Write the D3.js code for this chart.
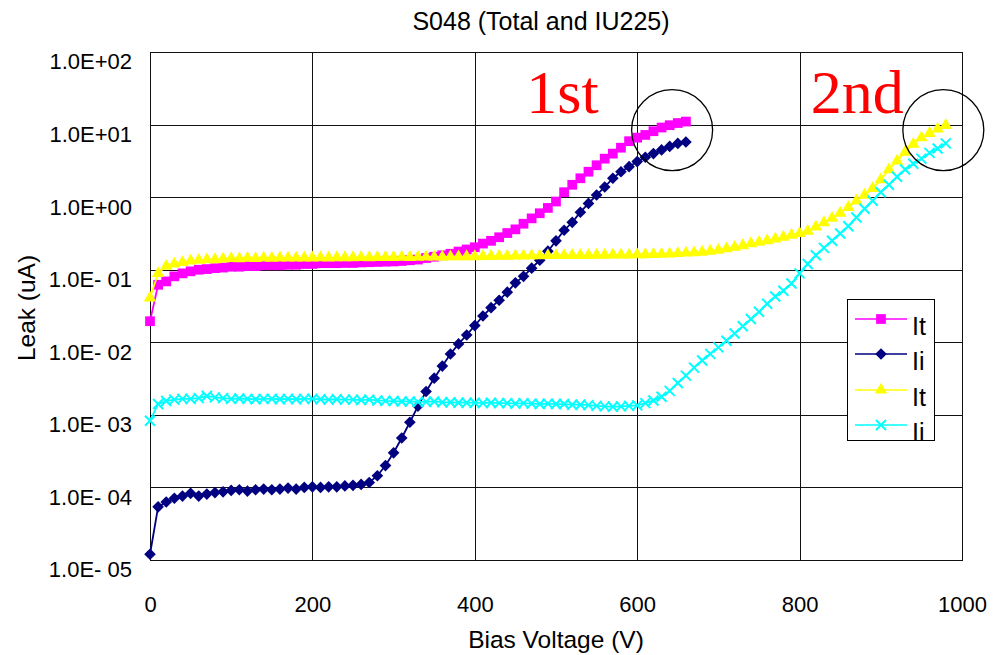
<!DOCTYPE html>
<html>
<head>
<meta charset="utf-8">
<script src="https://cdn.jsdelivr.net/npm/d3@7"></script>
<style>
  body { margin: 0; background: #fff; }
  svg { display: block; font-family: "Liberation Sans", Arial, sans-serif; }
</style>
</head>
<body>
<svg></svg>
<script>
// bias voltage of the first and second measurement (V)
let volts1 = [0, 10, 20, 30, 40, 50, 60, 70, 80, 90, 100, 110, 120, 130, 140, 150, 160, 170, 180, 190,
  200, 210, 220, 230, 240, 250, 260, 270, 280, 290, 300, 310, 320, 330, 340, 350, 360, 370, 380, 390,
  400, 410, 420, 430, 440, 450, 460, 470, 480, 490, 500, 510, 520, 530, 540, 550, 560, 570, 580, 590,
  600, 610, 620, 630, 640, 650, 660]
let volts2 = [0, 10, 20, 30, 40, 50, 60, 70, 80, 90, 100, 110, 120, 130, 140, 150, 160, 170, 180, 190,
  200, 210, 220, 230, 240, 250, 260, 270, 280, 290, 300, 310, 320, 330, 340, 350, 360, 370, 380, 390,
  400, 410, 420, 430, 440, 450, 460, 470, 480, 490, 500, 510, 520, 530, 540, 550, 560, 570, 580, 590,
  600, 610, 620, 630, 640, 650, 660, 670, 680, 690, 700, 710, 720, 730, 740, 750, 760, 770, 780, 790,
  800, 810, 820, 830, 840, 850, 860, 870, 880, 890, 900, 910, 920, 930, 940, 950, 960, 970, 980]

// leak current (uA), first measurement
let it1 = [0.0195, 0.062, 0.069, 0.081, 0.089, 0.095, 0.100, 0.102, 0.105, 0.107,
  0.110, 0.110, 0.112, 0.112, 0.115, 0.115, 0.115, 0.117, 0.117, 0.120,
  0.120, 0.123, 0.123, 0.123, 0.124, 0.124, 0.126, 0.127, 0.128, 0.129,
  0.130, 0.132, 0.135, 0.138, 0.145, 0.151, 0.158, 0.166, 0.178, 0.190,
  0.204, 0.229, 0.250, 0.280, 0.320, 0.360, 0.430, 0.510, 0.600, 0.710,
  0.870, 1.17, 1.48, 1.82, 2.24, 2.75, 3.39, 3.98, 4.80, 5.90,
  6.60, 7.20, 8.10, 9.10, 9.80, 10.5, 11.0]
let ii1 = [1.2e-5, 5.4e-5, 6.3e-5, 7.1e-5, 7.6e-5, 8.3e-5, 7.6e-5, 8.1e-5, 8.5e-5, 8.7e-5,
  9.1e-5, 9.3e-5, 8.9e-5, 9.3e-5, 9.5e-5, 9.3e-5, 9.5e-5, 9.8e-5, 9.5e-5, 1.0e-4,
  1.02e-4, 1.0e-4, 1.02e-4, 1.02e-4, 1.05e-4, 1.07e-4, 1.1e-4, 1.17e-4, 1.45e-4, 2.0e-4,
  3.0e-4, 4.8e-4, 7.9e-4, 1.32e-3, 2.1e-3, 3.2e-3, 4.7e-3, 6.9e-3, 9.5e-3, 1.26e-2,
  1.7e-2, 2.3e-2, 3.0e-2, 3.8e-2, 4.9e-2, 6.6e-2, 8.1e-2, 0.105, 0.135, 0.18,
  0.25, 0.35, 0.45, 0.62, 0.82, 1.07, 1.38, 1.82, 2.24, 2.63,
  3.09, 3.55, 3.98, 4.47, 5.0, 5.5, 5.75]

// leak current (uA), second measurement
let it2 = [0.041, 0.089, 0.112, 0.120, 0.126, 0.132, 0.135, 0.138, 0.138, 0.141,
  0.143, 0.142, 0.144, 0.143, 0.145, 0.144, 0.146, 0.145, 0.145, 0.146,
  0.146, 0.147, 0.146, 0.147, 0.147, 0.147, 0.148, 0.147, 0.148, 0.148,
  0.148, 0.149, 0.148, 0.149, 0.150, 0.150, 0.150, 0.151, 0.151, 0.152,
  0.152, 0.153, 0.153, 0.154, 0.154, 0.155, 0.155, 0.156, 0.156, 0.157,
  0.157, 0.157, 0.158, 0.158, 0.158, 0.159, 0.159, 0.160, 0.160, 0.160,
  0.161, 0.162, 0.163, 0.164, 0.165, 0.168, 0.170, 0.172, 0.175, 0.180,
  0.186, 0.195, 0.204, 0.215, 0.229, 0.240, 0.251, 0.266, 0.282, 0.300,
  0.316, 0.339, 0.389, 0.447, 0.513, 0.603, 0.724, 0.891, 1.07, 1.32,
  1.74, 2.40, 3.16, 4.17, 5.37, 6.61, 7.59, 8.71, 9.77]
let ii2 = [8.3e-4, 1.41e-3, 1.55e-3, 1.62e-3, 1.66e-3, 1.66e-3, 1.70e-3, 1.82e-3, 1.74e-3, 1.70e-3,
  1.66e-3, 1.68e-3, 1.66e-3, 1.64e-3, 1.66e-3, 1.66e-3, 1.64e-3, 1.66e-3, 1.64e-3, 1.66e-3,
  1.66e-3, 1.64e-3, 1.62e-3, 1.64e-3, 1.62e-3, 1.62e-3, 1.60e-3, 1.62e-3, 1.58e-3, 1.56e-3,
  1.55e-3, 1.53e-3, 1.53e-3, 1.51e-3, 1.51e-3, 1.53e-3, 1.49e-3, 1.49e-3, 1.47e-3, 1.47e-3,
  1.47e-3, 1.45e-3, 1.47e-3, 1.45e-3, 1.45e-3, 1.43e-3, 1.45e-3, 1.43e-3, 1.41e-3, 1.43e-3,
  1.41e-3, 1.41e-3, 1.38e-3, 1.38e-3, 1.36e-3, 1.33e-3, 1.31e-3, 1.29e-3, 1.31e-3, 1.33e-3,
  1.35e-3, 1.45e-3, 1.58e-3, 1.78e-3, 2.14e-3, 2.75e-3, 3.47e-3, 4.47e-3, 5.62e-3, 6.92e-3,
  8.51e-3, 1.05e-2, 1.32e-2, 1.66e-2, 2.09e-2, 2.63e-2, 3.39e-2, 4.27e-2, 5.13e-2, 6.46e-2,
  0.089, 0.120, 0.158, 0.200, 0.251, 0.316, 0.398, 0.525, 0.692, 0.891,
  1.17, 1.48, 1.91, 2.40, 2.88, 3.39, 4.07, 4.68, 5.50]

let seriesNames = ['It', 'Ii', 'It', 'Ii']

// axis ticks
let xTicks = [0, 200, 400, 600, 800, 1000]
let yTicks = [1e-5, 1e-4, 1e-3, 1e-2, 1e-1, 1e0, 1e1, 1e2]
let yTickLabels = ['1.0E- 05', '1.0E- 04', '1.0E- 03', '1.0E- 02', '1.0E- 01', '1.0E+00', '1.0E+01', '1.0E+02']

// annotations: breakdown labels and circled end points
let noteTexts = ['1st', '2nd']
let noteVolts = [508, 871]
let noteLeak = [14.4, 14.4]
let ringVolts = [643, 977]
let ringLeak = [8.4, 8.4]

let width = 996
let height = 655
let plotLeft = 150
let plotRight = 962
let plotTop = 52
let plotBottom = 560

let svg = d3.select('svg').attr('width', width).attr('height', height)

let xScale = d3.scaleLinear().domain([0, 1000]).range([plotLeft, plotRight])
let yScale = d3.scaleLog().domain([1e-5, 100]).range([plotBottom, plotTop])

// gridlines + tick labels via axes
let xAxis = d3.axisBottom(xScale)
  .tickValues(xTicks)
  .tickFormat(d3.format('d'))
  .tickSizeInner(-(plotBottom - plotTop))
  .tickSizeOuter(0)
  .tickPadding(36)
let yAxis = d3.axisLeft(yScale)
  .tickValues(yTicks)
  .tickFormat((d, i) => yTickLabels[i])
  .tickSizeInner(-(plotRight - plotLeft))
  .tickSizeOuter(0)
  .tickPadding(18)

let gx = svg.append('g')
  .attr('transform', 'translate(0,' + plotBottom + ')')
  .call(xAxis)
let gy = svg.append('g')
  .attr('transform', 'translate(' + plotLeft + ',0)')
  .call(yAxis)

svg.selectAll('.domain').remove()
svg.selectAll('.tick line').attr('stroke', '#111').attr('stroke-width', 1).attr('shape-rendering', 'crispEdges')
svg.selectAll('.tick text').attr('fill', '#000').attr('font-size', 22).attr('font-family', '"Liberation Sans", Arial, sans-serif')
gy.selectAll('.tick text').attr('dy', '0.77em')

// plot frame
svg.append('rect')
  .attr('x', plotLeft).attr('y', plotTop)
  .attr('width', plotRight - plotLeft).attr('height', plotBottom - plotTop)
  .attr('fill', 'none').attr('stroke', '#111').attr('shape-rendering', 'crispEdges')

// series
let makeSeries = (volts, vals) => volts.map((v, i) => [v, vals[i]])
let crossSym = {
  draw: (ctx, size) => {
    let r = Math.sqrt(size) / 2
    ctx.moveTo(-r, -r); ctx.lineTo(r, r)
    ctx.moveTo(-r, r); ctx.lineTo(r, -r)
  }
}
let series = [
  { data: makeSeries(volts1, it1), color: '#ff00ff', sym: d3.symbolSquare, size: 95, rot: 0, fill: true },
  { data: makeSeries(volts1, ii1), color: '#000080', sym: d3.symbolSquare, size: 68, rot: 45, fill: true },
  { data: makeSeries(volts2, it2), color: '#ffff00', sym: d3.symbolTriangle, size: 68, rot: 0, fill: true },
  { data: makeSeries(volts2, ii2), color: '#00ffff', sym: crossSym, size: 100, rot: 0, fill: false }
]

let line = d3.line().x(d => xScale(d[0])).y(d => yScale(d[1]))

series.forEach(s => {
  let g = svg.append('g')
  g.append('path')
    .attr('d', line(s.data))
    .attr('fill', 'none')
    .attr('stroke', s.color)
    .attr('stroke-width', 1.8)
  g.selectAll('path.mark')
    .data(s.data)
    .enter()
    .append('path')
    .attr('class', 'mark')
    .attr('d', d3.symbol().type(s.sym).size(s.size))
    .attr('transform', d => 'translate(' + xScale(d[0]) + ',' + yScale(d[1]) + ') rotate(' + s.rot + ')')
    .attr('fill', s.fill ? s.color : 'none')
    .attr('stroke', s.color)
    .attr('stroke-width', s.fill ? 0 : 2)
})

// title and axis labels
svg.append('text')
  .attr('x', 541).attr('y', 30)
  .attr('text-anchor', 'middle')
  .attr('font-size', 25)
  .text('S048 (Total and IU225)')
svg.append('text')
  .attr('x', (plotLeft + plotRight) / 2).attr('y', 648)
  .attr('text-anchor', 'middle')
  .attr('font-size', 24.5)
  .text('Bias Voltage (V)')
svg.append('text')
  .attr('transform', 'translate(35,308) rotate(-90)')
  .attr('text-anchor', 'middle')
  .attr('font-size', 24.5)
  .text('Leak (uA)')

// legend
let lg = svg.append('g')
svg.append('clipPath').attr('id', 'legclip')
  .append('rect').attr('x', 847).attr('y', 299).attr('width', 87).attr('height', 141)
lg.append('rect')
  .attr('x', 847.5).attr('y', 299.5).attr('width', 87).attr('height', 141)
  .attr('fill', '#fff').attr('stroke', '#000')
let rowY = [319, 354, 390, 425]
let lgItems = lg.append('g').attr('clip-path', 'url(#legclip)')
series.forEach((s, i) => {
  lgItems.append('line')
    .attr('x1', 855).attr('x2', 907)
    .attr('y1', rowY[i]).attr('y2', rowY[i])
    .attr('stroke', s.color).attr('stroke-width', 1.5)
  lgItems.append('path')
    .attr('d', d3.symbol().type(s.sym).size(s.size))
    .attr('transform', 'translate(881,' + rowY[i] + ') rotate(' + s.rot + ')')
    .attr('fill', s.fill ? s.color : 'none')
    .attr('stroke', s.color)
    .attr('stroke-width', s.fill ? 0 : 2)
  lgItems.append('text')
    .attr('x', 912).attr('y', rowY[i] + 16)
    .attr('font-size', 25)
    .text(seriesNames[i])
})

// annotations
noteTexts.forEach((t, i) => {
  svg.append('text')
    .attr('x', xScale(noteVolts[i])).attr('y', yScale(noteLeak[i]))
    .attr('text-anchor', 'middle')
    .attr('font-family', '"Liberation Serif", "Times New Roman", serif')
    .attr('font-size', 62)
    .attr('fill', '#ff0000')
    .text(t)
  svg.append('circle')
    .attr('cx', xScale(ringVolts[i])).attr('cy', yScale(ringLeak[i]))
    .attr('r', 40.5)
    .attr('fill', 'none')
    .attr('stroke', '#000')
    .attr('stroke-width', 1.3)
})
</script>
</body>
</html>
